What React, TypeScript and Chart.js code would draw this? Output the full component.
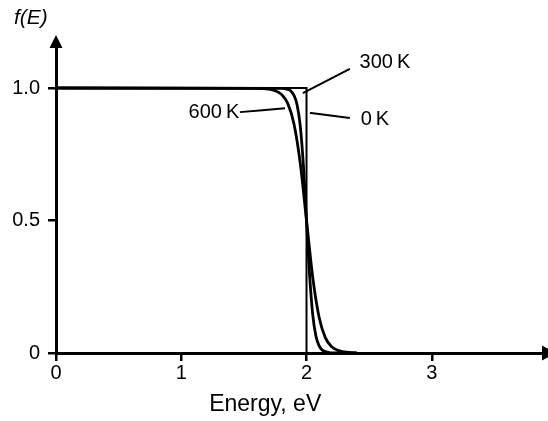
import React, { useEffect, useRef } from "react";
import { Chart, registerables } from "chart.js";

Chart.register(...registerables);

// Energy (eV) and occupation f(E)
const energy0K = [0, 2, 2];
const f0K = [1, 1, 0];

const energy300K = [0, 1.8, 1.85, 1.875, 1.9, 1.925, 1.95, 1.975, 2.0, 2.025, 2.05, 2.075, 2.1, 2.125, 2.15, 2.175, 2.2, 2.4];
const f300K = [1, 0.999, 0.995, 0.989, 0.972, 0.936, 0.857, 0.709, 0.5, 0.291, 0.143, 0.064, 0.028, 0.011, 0.005, 0.002, 0, 0];

const energy600K = [0, 1.6, 1.7, 1.75, 1.8, 1.85, 1.9, 1.95, 2.0, 2.05, 2.1, 2.15, 2.2, 2.25, 2.3, 2.35, 2.4];
const f600K = [1, 0.999, 0.996, 0.99, 0.976, 0.942, 0.864, 0.716, 0.5, 0.284, 0.136, 0.058, 0.024, 0.01, 0.004, 0.0015, 0];

// leader lines for the labels
const leader300X = [2.346, 1.971];
const leader300Y = [1.072, 0.981];
const leader600X = [1.468, 1.828];
const leader600Y = [0.909, 0.924];
const leader0X = [2.027, 2.346];
const leader0Y = [0.906, 0.887];

const labelTexts = ["300\u2009K", "600\u2009K", "0\u2009K"];
const labelX = [2.626, 1.261, 2.546];
const labelY = [1.098, 0.909, 0.883];

const xTicks = [0, 1, 2, 3];
const yTicks = [0, 0.5, 1];
const yTickLabels = ["0", "0.5", "1.0"];
const xTitle = "Energy, eV";
const yTitle = "f(E)";

const FONT = "'Liberation Sans', Arial, sans-serif";

const pts = (xs: number[], ys: number[]) => xs.map((x, i) => ({ x, y: ys[i] }));

const overlay = {
  id: "overlay",
  afterDraw(chart: any) {
    const { ctx, chartArea, scales } = chart;
    const xs = scales.x;
    const ys = scales.y;
    ctx.save();
    ctx.fillStyle = "#000";
    // arrowheads
    const y0 = ys.getPixelForValue(0);
    const x0 = xs.getPixelForValue(0);
    ctx.beginPath();
    ctx.moveTo(chartArea.right, y0 - 7.5);
    ctx.lineTo(chartArea.right + 14, y0);
    ctx.lineTo(chartArea.right, y0 + 7.5);
    ctx.closePath();
    ctx.fill();
    ctx.beginPath();
    ctx.moveTo(x0 - 6.5, chartArea.top);
    ctx.lineTo(x0, chartArea.top - 13);
    ctx.lineTo(x0 + 6.5, chartArea.top);
    ctx.closePath();
    ctx.fill();
    // labels
    ctx.font = `20px ${FONT}`;
    ctx.textAlign = "center";
    ctx.textBaseline = "middle";
    labelTexts.forEach((t, i) => {
      ctx.fillText(t, xs.getPixelForValue(labelX[i]), ys.getPixelForValue(labelY[i]));
    });
    ctx.font = `italic 21px ${FONT}`;
    ctx.fillText(yTitle, xs.getPixelForValue(-0.2), ys.getPixelForValue(1.265));
    ctx.font = `23px ${FONT}`;
    ctx.fillText(xTitle, xs.getPixelForValue(1.67), chartArea.bottom + 52);
    ctx.restore();
  },
};

export default function App() {
  const ref = useRef<HTMLCanvasElement | null>(null);
  useEffect(() => {
    if (!ref.current) return;
    Chart.defaults.color = "#000";
    Chart.defaults.font.family = FONT;
    const line = (data: any, w: number) => ({
      data,
      borderColor: "#000",
      borderWidth: w,
      pointRadius: 0,
      fill: false,
      cubicInterpolationMode: "monotone" as const,
      clip: false as any,
    });
    const chart = new Chart(ref.current, {
      type: "line",
      data: {
        datasets: [
          { ...line(pts(energy0K, f0K), 2), cubicInterpolationMode: "default" as const, tension: 0 },
          line(pts(energy300K, f300K), 2.8),
          line(pts(energy600K, f600K), 2.8),
          { ...line(pts(leader300X, leader300Y), 2), tension: 0 },
          { ...line(pts(leader600X, leader600Y), 2), tension: 0 },
          { ...line(pts(leader0X, leader0Y), 2), tension: 0 },
        ],
      },
      options: {
        animation: false,
        responsive: false,
        maintainAspectRatio: false,
        layout: { padding: { top: 48, right: 6, left: 0, bottom: 0 } },
        plugins: { legend: { display: false }, tooltip: { enabled: false } },
        scales: {
          x: {
            type: "linear",
            min: 0,
            max: 3.88,
            afterBuildTicks: (s: any) => {
              s.ticks = xTicks.map((v) => ({ value: v }));
            },
            afterFit: (s: any) => {
              s.height = 68;
            },
            border: { display: true, color: "#000", width: 3 },
            grid: { drawOnChartArea: false, drawTicks: true, tickLength: 8, color: "#000", lineWidth: 2.5 },
            ticks: { font: { size: 20 }, padding: 0, maxRotation: 0, callback: (v: any) => String(v) },
          },
          y: {
            type: "linear",
            min: 0,
            max: 1.151,
            afterBuildTicks: (s: any) => {
              s.ticks = yTicks.map((v) => ({ value: v }));
            },
            afterFit: (s: any) => {
              s.width = 56;
            },
            border: { display: true, color: "#000", width: 3 },
            grid: { drawOnChartArea: false, drawTicks: true, tickLength: 8, color: "#000", lineWidth: 2.5 },
            ticks: {
              font: { size: 20 },
              padding: 8,
              callback: (v: any) => yTickLabels[yTicks.indexOf(Number(v))] ?? "",
            },
          },
        },
      },
      plugins: [overlay],
    });
    return () => chart.destroy();
  }, []);
  return (
    <div style={{ position: "fixed", left: 0, top: 0, width: 548, height: 421, background: "#fff" }}>
      <canvas ref={ref} width={548} height={421} style={{ width: 548, height: 421 }} />
    </div>
  );
}
